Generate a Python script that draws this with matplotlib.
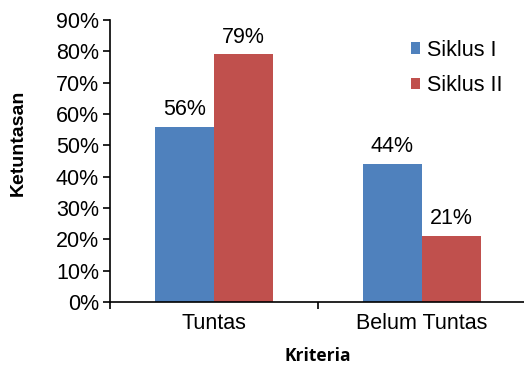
import matplotlib
matplotlib.use("Agg")
import matplotlib.pyplot as plt
import numpy as np

categories = ["Tuntas", "Belum Tuntas"]
series_names = ["Siklus I", "Siklus II"]
siklus_1 = [56, 44]
siklus_2 = [79, 21]
y_ticks = [0, 10, 20, 30, 40, 50, 60, 70, 80, 90]

colors = ["#4F81BD", "#C0504D"]
font = ["Liberation Sans", "DejaVu Sans"]
fs = 15.5

fig = plt.figure(figsize=(5.24, 3.65), dpi=100)
# axes extend slightly past the right edge of the figure
ax = fig.add_axes([110 / 524, (365 - 302) / 365, 416 / 524, 282 / 365])

x = np.arange(len(categories))
w = 0.284
for i, (vals, name) in enumerate(zip([siklus_1, siklus_2], series_names)):
    ax.bar(x + (i - 0.5) * w, vals, width=w, color=colors[i], label=name)
    for xi, v in zip(x + (i - 0.5) * w, vals):
        ax.text(xi, v + 2.2, f"{v}%", ha="center", va="bottom",
                fontsize=fs, family=font, color="#000000")

ax.set_xlim(-0.5, 1.5)
ax.set_ylim(0, 90)
ax.set_yticks(y_ticks)
ax.set_yticklabels([f"{t}%" for t in y_ticks], family=font, fontsize=fs)
ax.set_xticks([-0.5, 0.5, 1.5])
ax.set_xticklabels([])
ax.set_xticks(x, minor=True)
ax.set_xticklabels(categories, minor=True, family=font, fontsize=fs)
ax.tick_params(axis="x", which="minor", length=0, pad=8)
ax.tick_params(axis="x", which="major", length=5, width=1.2, direction="out")
ax.tick_params(axis="y", length=5, width=1.2, direction="out", pad=3)

for s in ["top", "right"]:
    ax.spines[s].set_visible(False)
for s in ["left", "bottom"]:
    ax.spines[s].set_linewidth(1.2)
    ax.spines[s].set_color("#000000")

fig.text(18 / 524, 1 - 143 / 365, "Ketuntasan", rotation=90, ha="center", va="center",
         family=font, fontsize=14, fontweight="bold")
fig.text(318 / 524, 1 - 356 / 365, "Kriteria", ha="center", va="center",
         family=["Open Sans", "DejaVu Sans"], fontsize=12.5, fontweight="bold")

ax.legend(loc="upper left", bbox_to_anchor=((402 - 110) / 416, 1 - 11 / 282),
          frameon=False, prop={"family": font, "size": fs},
          handlelength=0.42, handleheight=0.42, handletextpad=0.35,
          labelspacing=0.68, borderaxespad=0)

fig.savefig("out.png", dpi=100)
